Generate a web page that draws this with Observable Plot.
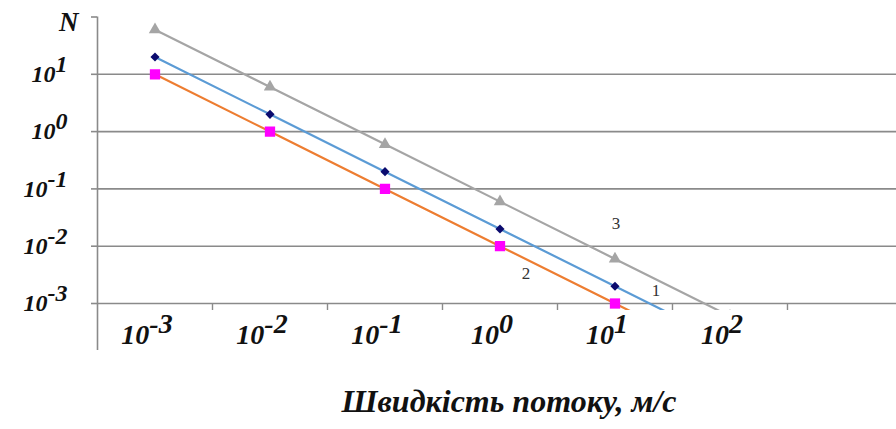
<!DOCTYPE html>
<html>
<head>
<meta charset="utf-8">
<script src="https://cdn.jsdelivr.net/npm/d3@7"></script>
<script src="https://cdn.jsdelivr.net/npm/@observablehq/plot@0.6"></script>
<style>
  html, body { margin: 0; padding: 0; background: #fff; }
  #chart { width: 896px; height: 429px; overflow: hidden; }
</style>
</head>
<body>
<div id="chart"></div>
<script>
// ---- data ----
const velocity = [1e-3, 1e-2, 1e-1, 1, 10, 100];          // x categories (m/s)
const xTickLabels = ["10^-3", "10^-2", "10^-1", "10^0", "10^1", "10^2"];
const yTicks = [1e-3, 1e-2, 1e-1, 1, 10, 100];
const yTickLabels = ["10^-3", "10^-2", "10^-1", "10^0", "10^1", "N"];
const series1 = [20, 2, 0.2, 0.02, 0.002, 0.0002];        // curve 1 (blue, diamonds)
const series2 = [10, 1, 0.1, 0.01, 0.001, 0.0001];        // curve 2 (orange, squares)
const series3 = [60, 6, 0.6, 0.06, 0.006, 0.0006];        // curve 3 (grey, triangles)
const seriesNames = ["1", "2", "3"];
const xTitle = "Швидкість потоку, м/с";

// ---- scales ----
const xDomain = [10 ** -3.5, 10 ** 3.448];
const yDomain = [10 ** -3.122, 100];

const rows = (vals) => velocity.map((v, i) => ({x: v, y: vals[i]}));
const d1 = rows(series1), d2 = rows(series2), d3r = rows(series3);
const boundaries = velocity.map(v => v * Math.sqrt(10));
const gridVals = yTicks.slice(0, 5);

const serif = "Liberation Serif";
const gridColor = "#8a8a8a";

const fmtY = v => {
  const i = yTicks.findIndex(t => Math.abs(Math.log10(t) - Math.log10(v)) < 1e-6);
  return i >= 0 && i < 5 ? yTickLabels[i] : "";
};
const fmtX = v => {
  const i = velocity.findIndex(t => Math.abs(Math.log10(t) - Math.log10(v)) < 1e-6);
  return i >= 0 ? xTickLabels[i] : "";
};

const chart = Plot.plot({
  width: 896,
  height: 429,
  marginLeft: 97,
  marginRight: 0,
  marginTop: 16.5,
  marginBottom: 119,
  style: {background: "white", fontFamily: serif, color: "#111"},
  x: {type: "log", domain: xDomain},
  y: {type: "log", domain: yDomain},
  marks: [
    Plot.ruleY(gridVals, {stroke: gridColor, strokeWidth: 1.6}),
    Plot.ruleX([xDomain[0]], {stroke: gridColor, strokeWidth: 1.6, insetBottom: -40}),
    Plot.ruleX(boundaries.slice(0, 6), {y1: () => gridVals[0], y2: () => yDomain[0], stroke: gridColor, strokeWidth: 1.4}),
    Plot.axisY({ticks: yTicks, tickSize: 6, tickPadding: 24, tickFormat: fmtY, label: null,
      stroke: gridColor, strokeWidth: 1.6, fill: "#111",
      fontSize: 24, fontWeight: "bold", fontStyle: "italic", fontFamily: serif}),
    Plot.axisX({ticks: velocity, tickSize: 0, tickPadding: 14, tickFormat: fmtX, dx: -8, label: null,
      fill: "#111", fontSize: 28, fontWeight: "bold", fontStyle: "italic", fontFamily: serif}),
    Plot.text([yTickLabels[5]], {x: () => xDomain[0], y: () => 100, text: d => d,
      textAnchor: "end", dx: -19, dy: 5, fill: "#111",
      fontSize: 27, fontWeight: "bold", fontStyle: "italic", fontFamily: serif}),
    // curves
    Plot.line(d3r, {x: "x", y: "y", stroke: "#a5a5a5", strokeWidth: 2.2, clip: true}),
    Plot.line(d1, {x: "x", y: "y", stroke: "#5b9bd5", strokeWidth: 2.2, clip: true}),
    Plot.line(d2, {x: "x", y: "y", stroke: "#ed7d31", strokeWidth: 2.2, clip: true}),
    Plot.dot(d3r, {x: "x", y: "y", symbol: "triangle", r: 4.6, fill: "#a5a5a5", clip: true}),
    Plot.dot(d1, {x: "x", y: "y", symbol: "diamond2", r: 4.1, fill: "#0a0a6e", clip: true}),
    Plot.dot(d2, {x: "x", y: "y", symbol: "square", r: 5.8, fill: "#ff00ff", clip: true}),
    // curve labels
    Plot.text([d3r[4]], {x: "x", y: "y", text: () => seriesNames[2], dx: 1, dy: -35,
      fontSize: 17, fill: "#333", fontFamily: serif}),
    Plot.text([d2[3]], {x: "x", y: "y", text: () => seriesNames[1], dx: 26, dy: 27,
      fontSize: 17, fill: "#333", fontFamily: serif}),
    Plot.text([d1[4]], {x: "x", y: "y", text: () => seriesNames[0], dx: 41, dy: 4,
      fontSize: 17, fill: "#333", fontFamily: serif}),
    // x-axis title
    Plot.text([xTitle], {frameAnchor: "bottom", text: d => d, dx: 12, dy: 101,
      fontSize: 32, fontWeight: "bold", fontStyle: "italic", fill: "#111", fontFamily: serif})
  ]
});

// superscript exponents in tick labels
d3.select(chart).selectAll('g[aria-label="x-axis tick label"] text, g[aria-label="y-axis tick label"] text')
  .each(function() {
    const s = this.textContent;
    const k = s.indexOf("^");
    if (k < 0) return;
    const t = d3.select(this);
    t.text(s.slice(0, k));
    t.append("tspan").attr("dy", "-0.42em").text(s.slice(k + 1));
  });

document.getElementById("chart").appendChild(chart);
</script>
</body>
</html>
